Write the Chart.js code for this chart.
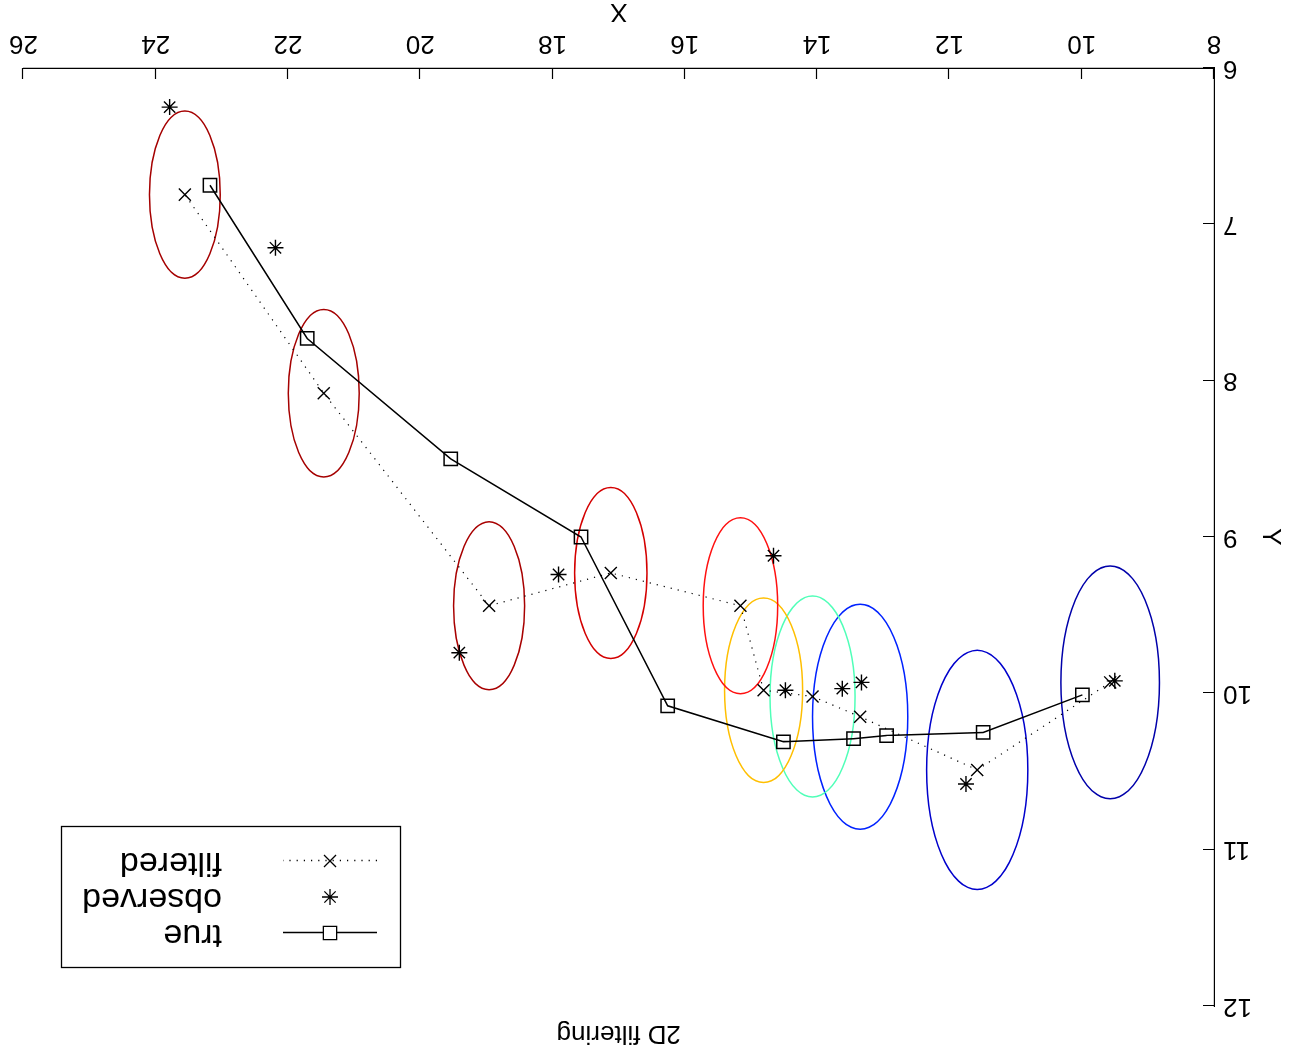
<!DOCTYPE html>
<html>
<head>
    <title>2D filtering</title>
    <script src="https://cdn.jsdelivr.net/npm/chart.js"></script>
    <style>
        body {
            margin: 0;
            background-color: white;
            overflow: hidden;
        }
        /* the reference figure is turned upside down */
        .wrap {
            width: 1289px;
            height: 1060px;
            transform: rotate(180deg);
        }
    </style>
</head>
<body>
    <div class="wrap">
        <canvas id="filterChart" width="1289" height="1060"></canvas>
    </div>

    <script>
        // values, in time order
        const trueX = [9.99, 11.49, 12.95, 13.45, 14.51, 16.26, 17.57, 19.54, 21.71, 23.18];
        const trueY = [10.01, 10.25, 10.27, 10.29, 10.31, 10.08, 9.00, 8.50, 7.73, 6.75];

        const obsX = [9.50, 11.75, 13.33, 13.62, 14.48, 14.66, 17.91, 19.41, 22.19, 23.79];
        const obsY = [9.92, 10.58, 9.93, 9.97, 9.98, 9.12, 9.24, 9.74, 7.15, 6.25];

        const filtX = [9.57, 11.58, 13.35, 14.07, 14.81, 15.16, 17.12, 18.96, 21.46, 23.56];
        const filtY = [9.93, 10.49, 10.15, 10.02, 9.98, 9.44, 9.23, 9.44, 8.08, 6.81];

        // covariance circles round each filtered estimate
        const covRadius = [0.745, 0.765, 0.72, 0.643, 0.59, 0.563, 0.547, 0.537, 0.536, 0.535];
        const covColors = ['#0000aa', '#0000cc', '#0022ff', '#50ffb8', '#ffbf00',
                           '#ff1010', '#d40000', '#a80000', '#a50000', '#a50000'];

        const xTicks = [8, 10, 12, 14, 16, 18, 20, 22, 24, 26];
        const yTicks = [6, 7, 8, 9, 10, 11, 12];

        const legendLabels = ['true', 'observed', 'filtered'];

        const FONT = "'Liberation Sans', Arial, Helvetica, sans-serif";
        Chart.defaults.font.family = FONT;
        Chart.defaults.color = '#000';

        function toPoints(xs, ys) {
            return xs.map((x, i) => ({ x: x, y: ys[i] }));
        }

        function marker(ctx, style, x, y, r) {
            ctx.beginPath();
            if (style === 'rect') {
                const s = r * Math.SQRT1_2;
                ctx.rect(x - s, y - s, 2 * s, 2 * s);
            } else {
                const d = r * Math.SQRT1_2;
                ctx.moveTo(x - d, y - d); ctx.lineTo(x + d, y + d);
                ctx.moveTo(x - d, y + d); ctx.lineTo(x + d, y - d);
                if (style === 'star') {
                    ctx.moveTo(x - r, y); ctx.lineTo(x + r, y);
                    ctx.moveTo(x, y - r); ctx.lineTo(x, y + r);
                }
            }
            ctx.stroke();
        }

        const ellipses = {
            id: 'ellipses',
            beforeDatasetsDraw(chart) {
                const ctx = chart.ctx;
                const xs = chart.scales.x, ys = chart.scales.y;
                ctx.save();
                ctx.lineWidth = 1.5;
                filtX.forEach((fx, i) => {
                    const cx = xs.getPixelForValue(fx);
                    const cy = ys.getPixelForValue(filtY[i]);
                    const rx = Math.abs(xs.getPixelForValue(fx + covRadius[i]) - cx);
                    const ry = Math.abs(ys.getPixelForValue(filtY[i] + covRadius[i]) - cy);
                    ctx.strokeStyle = covColors[i];
                    ctx.beginPath();
                    ctx.ellipse(cx, cy, rx, ry, 0, 0, Math.PI * 2);
                    ctx.stroke();
                });
                ctx.restore();
            }
        };

        // matlab style inward ticks, titles and legend
        const matlabBits = {
            id: 'matlabBits',
            afterDraw(chart) {
                const ctx = chart.ctx;
                const area = chart.chartArea;
                const xs = chart.scales.x, ys = chart.scales.y;
                ctx.save();
                ctx.strokeStyle = '#000';
                ctx.lineWidth = 1.2;
                ctx.beginPath();
                xTicks.forEach(v => {
                    const p = Math.round(xs.getPixelForValue(v)) + 0.5;
                    ctx.moveTo(p, area.bottom); ctx.lineTo(p, area.bottom - 11);
                });
                yTicks.forEach(v => {
                    const p = Math.round(ys.getPixelForValue(v)) + 0.5;
                    ctx.moveTo(area.left, p); ctx.lineTo(area.left + 11, p);
                });
                ctx.stroke();

                const midX = (area.left + area.right) / 2;
                const midY = (area.top + area.bottom) / 2;
                ctx.fillStyle = '#000';
                ctx.textAlign = 'center';
                ctx.textBaseline = 'alphabetic';
                ctx.font = '26px ' + FONT;
                ctx.fillText('2D filtering', midX, 34);
                ctx.fillText('X', midX, 1056);
                ctx.save();
                ctx.translate(26, midY);
                ctx.rotate(-Math.PI / 2);
                ctx.fillText('Y', 0, 0);
                ctx.restore();

                // legend box
                const bx = 888, by = 92, bw = 339, bh = 141;
                ctx.fillStyle = '#fff';
                ctx.fillRect(bx, by, bw, bh);
                ctx.lineWidth = 1.3;
                ctx.strokeRect(bx + 0.5, by + 0.5, bw, bh);

                const rows = [127, 163, 199];
                const styles = ['rect', 'star', 'crossRot'];
                const radii = [9.4, 8, 8.5];
                rows.forEach((ry, i) => {
                    ctx.strokeStyle = '#000';
                    ctx.lineWidth = 1.3;
                    if (i === 0 || i === 2) {
                        ctx.save();
                        if (i === 2) ctx.setLineDash([1.2, 6]);
                        ctx.beginPath();
                        ctx.moveTo(912, ry + 0.5);
                        ctx.lineTo(1006, ry + 0.5);
                        ctx.stroke();
                        ctx.restore();
                    }
                    if (i === 0) {
                        ctx.fillStyle = '#fff';
                        ctx.fillRect(952, ry - 6, 13, 13);
                    }
                    marker(ctx, styles[i], 959, ry, radii[i]);
                    ctx.fillStyle = '#000';
                    ctx.textAlign = 'left';
                    ctx.font = '34px ' + FONT;
                    ctx.fillText(legendLabels[i], 1067, ry + 8);
                });
                ctx.restore();
            }
        };

        const ctx = document.getElementById('filterChart').getContext('2d');
        const chart = new Chart(ctx, {
            type: 'scatter',
            data: {
                datasets: [{
                    label: 'true',
                    data: toPoints(trueX, trueY),
                    showLine: true,
                    borderColor: '#000',
                    borderWidth: 1.5,
                    pointStyle: 'rect',
                    pointRadius: 9.4,
                    pointBorderWidth: 1.5,
                    pointBorderColor: '#000',
                    pointBackgroundColor: 'rgba(0,0,0,0)'
                }, {
                    label: 'observed',
                    data: toPoints(obsX, obsY),
                    showLine: false,
                    pointStyle: 'star',
                    pointRadius: 8,
                    pointBorderWidth: 1.4,
                    pointBorderColor: '#000',
                    pointBackgroundColor: 'rgba(0,0,0,0)'
                }, {
                    label: 'filtered',
                    data: toPoints(filtX, filtY),
                    showLine: true,
                    borderColor: '#000',
                    borderWidth: 1.2,
                    borderDash: [1.2, 6],
                    pointStyle: 'crossRot',
                    pointRadius: 8.5,
                    pointBorderWidth: 1.4,
                    pointBorderColor: '#000',
                    pointBackgroundColor: 'rgba(0,0,0,0)'
                }]
            },
            options: {
                responsive: false,
                animation: false,
                events: [],
                layout: {
                    padding: { top: 54, right: 22, left: 0, bottom: 0 }
                },
                scales: {
                    x: {
                        type: 'linear',
                        min: 8,
                        max: 26,
                        afterFit: s => { s.height = 68; },
                        afterBuildTicks: s => { s.ticks = xTicks.map(v => ({ value: v })); },
                        ticks: { font: { size: 26 }, padding: 9, color: '#000' },
                        grid: { display: false, drawTicks: false },
                        border: { display: true, color: '#000', width: 1.2 }
                    },
                    y: {
                        type: 'linear',
                        min: 6,
                        max: 12,
                        afterFit: s => { s.width = 75; },
                        afterBuildTicks: s => { s.ticks = yTicks.map(v => ({ value: v })); },
                        ticks: { font: { size: 26 }, padding: 9, color: '#000' },
                        grid: { display: false, drawTicks: false },
                        border: { display: true, color: '#000', width: 1.2 }
                    }
                },
                plugins: {
                    legend: { display: false },
                    title: { display: false },
                    tooltip: { enabled: false }
                }
            },
            plugins: [ellipses, matlabBits]
        });
    </script>
</body>
</html>
